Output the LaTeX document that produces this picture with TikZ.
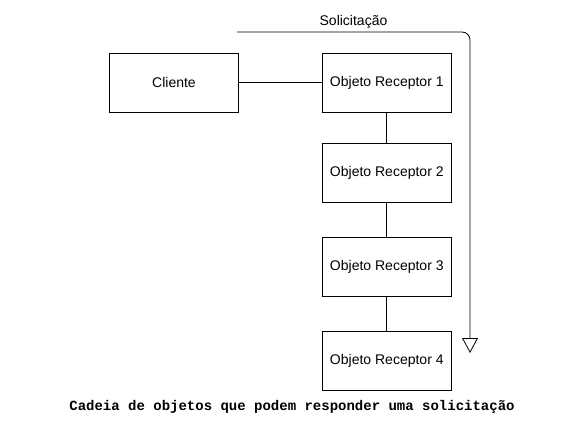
\documentclass[tikz,border=0pt]{standalone}
\usepackage{fontspec}
\setmainfont{Liberation Sans}
\setmonofont{Liberation Mono}
\usepackage{tikz}
\usetikzlibrary{arrows.meta,positioning}

\begin{document}
\begin{tikzpicture}[line width=0.8pt, font=\fontsize{14pt}{17pt}\selectfont]
        \tikzstyle{objeto} = [draw, rectangle, minimum width=129pt, minimum height=59pt, inner sep=0pt]
        \useasboundingbox (0,0) rectangle (572pt,-427pt);
        \node[objeto] (c) at (174pt,-82.5pt) {Cliente};
        \node[objeto, right = 83pt of c] (r1) {Objeto Receptor 1};
        \node[objeto, below = 31pt of r1] (r2) {Objeto Receptor 2};
        \node[objeto, below = 34pt of r2] (r3) {Objeto Receptor 3};
        \node[objeto, below = 34pt of r3] (r4) {Objeto Receptor 4};
        \coordinate (s0) at (237pt,-32pt);
        \coordinate (s1) at (470pt,-353pt);

        \draw (c) -- (r1);
        \draw (r1) -- (r2);
        \draw (r2) -- (r3);
        \draw (r3) -- (r4);
        \draw [-{Triangle[open,length=15pt,width=16pt]}, rounded corners=8pt] (s0) -| node[pos=0.25, above] (sol) {Solicitação} (s1);
        \node[font=\ttfamily\bfseries\fontsize{14pt}{17pt}\selectfont] (legenda) at (292pt,-407pt) {Cadeia de objetos que podem responder uma solicitação};
\end{tikzpicture}
\end{document}
